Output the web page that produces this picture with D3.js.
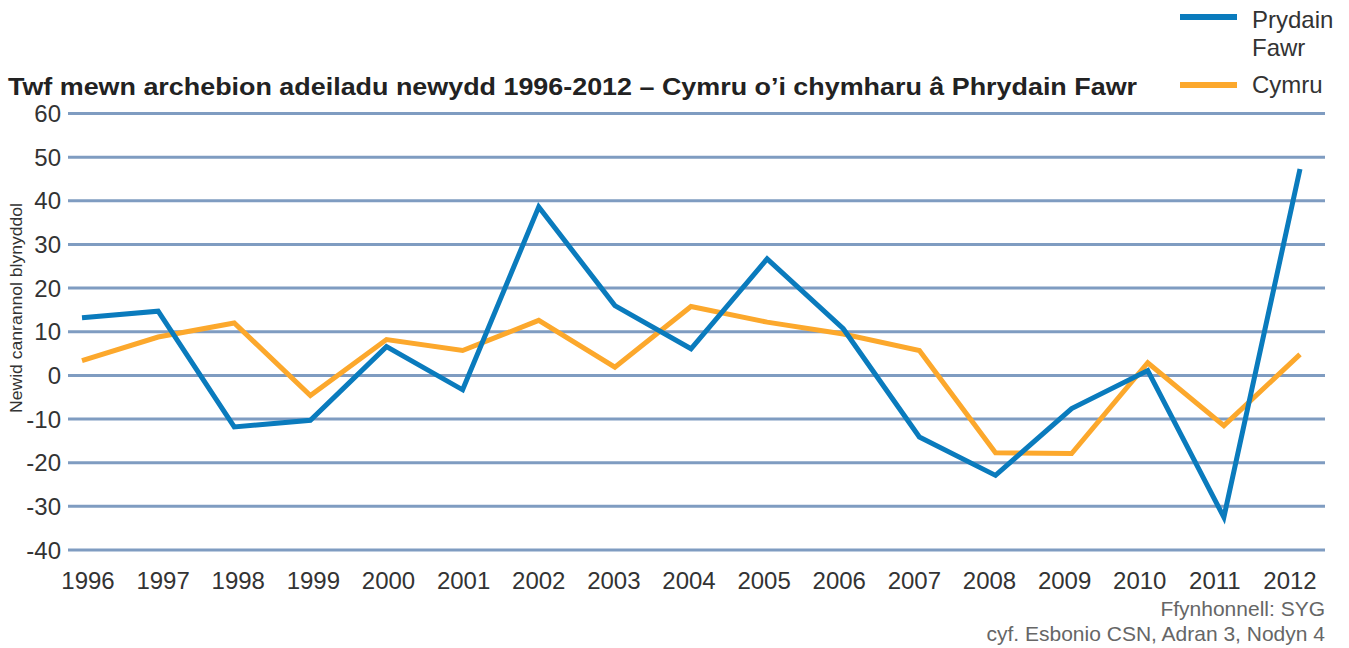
<!DOCTYPE html>
<html><head><meta charset="utf-8">
<script src="https://cdn.jsdelivr.net/npm/d3@7"></script>
<style>body{margin:0;background:#fff}svg{display:block}text{font-family:"Liberation Sans",Arial,sans-serif}</style>
</head><body><svg id="c" width="1349" height="648"></svg>
<script>
const years = [1996,1997,1998,1999,2000,2001,2002,2003,2004,2005,2006,2007,2008,2009,2010,2011,2012];
const prydainFawr = [13.2,14.7,-11.8,-10.3,6.6,-3.3,38.6,16.0,6.1,26.7,10.7,-14.1,-22.9,-7.6,1.1,-32.5,47.3];
const cymru = [3.4,8.8,12.0,-4.6,8.2,5.7,12.6,1.9,15.8,12.2,9.5,5.7,-17.7,-17.9,2.9,-11.5,4.8];
const yTicks = [60,50,40,30,20,10,0,-10,-20,-30,-40];
const seriesNames = ["Prydain Fawr","Cymru"];

const svg = d3.select("#c");
const x = d3.scaleLinear().domain([1996,2012]).range([82,1300]);
const xLab = d3.scaleLinear().domain([1996,2012]).range([88,1290]);
const y = d3.scaleLinear().domain([-40,60]).range([550,113.5]);

// gridlines
svg.append("g").selectAll("line").data(yTicks).join("line")
  .attr("x1",68).attr("x2",1325).attr("y1",d=>y(d)).attr("y2",d=>y(d))
  .attr("stroke","#7f9cc1").attr("stroke-width",3);

// y tick labels
svg.append("g").selectAll("text").data(yTicks).join("text")
  .attr("x",61).attr("y",d=>y(d)).attr("dy","0.36em").attr("text-anchor","end")
  .attr("font-size",24).attr("fill","#333").text(d=>d);

// x labels
svg.append("g").selectAll("text").data(years).join("text")
  .attr("x",d=>xLab(d)).attr("y",589).attr("text-anchor","middle")
  .attr("font-size",24).attr("fill","#333").text(d=>d);

const line = d3.line().x((d,i)=>x(years[i])).y(d=>y(d));
svg.append("path").datum(cymru).attr("d",line).attr("fill","none")
  .attr("stroke","#fca82c").attr("stroke-width",5).attr("stroke-linejoin","miter");
svg.append("path").datum(prydainFawr).attr("d",line).attr("fill","none")
  .attr("stroke","#0a7bbd").attr("stroke-width",5).attr("stroke-linejoin","miter");

// title
svg.append("text").attr("x",8).attr("y",95).attr("font-size",24).attr("font-weight","bold")
  .attr("fill","#222").attr("textLength",1129).attr("lengthAdjust","spacingAndGlyphs")
  .text("Twf mewn archebion adeiladu newydd 1996-2012 – Cymru o’i chymharu â Phrydain Fawr");

// y axis title
svg.append("text").attr("transform","translate(22,308) rotate(-90)").attr("text-anchor","middle")
  .attr("font-size",16).attr("fill","#333").attr("textLength",210).attr("lengthAdjust","spacingAndGlyphs")
  .text("Newid canrannol blynyddol");

// legend
const lg = svg.append("g");
lg.append("line").attr("x1",1180).attr("x2",1237).attr("y1",17).attr("y2",17).attr("stroke","#0a7bbd").attr("stroke-width",6);
lg.append("line").attr("x1",1180).attr("x2",1237).attr("y1",85).attr("y2",85).attr("stroke","#fca82c").attr("stroke-width",6);
lg.append("text").attr("x",1252).attr("y",28).attr("font-size",24).attr("fill","#333").text("Prydain");
lg.append("text").attr("x",1252).attr("y",56).attr("font-size",24).attr("fill","#333").text("Fawr");
lg.append("text").attr("x",1252).attr("y",93).attr("font-size",24).attr("fill","#333").text(seriesNames[1]);

// source
svg.append("text").attr("x",1325).attr("y",616).attr("text-anchor","end").attr("font-size",21).attr("fill","#666").text("Ffynhonnell: SYG");
svg.append("text").attr("x",1325).attr("y",641).attr("text-anchor","end").attr("font-size",21).attr("fill","#666").text("cyf. Esbonio CSN, Adran 3, Nodyn 4");
</script></body></html>
